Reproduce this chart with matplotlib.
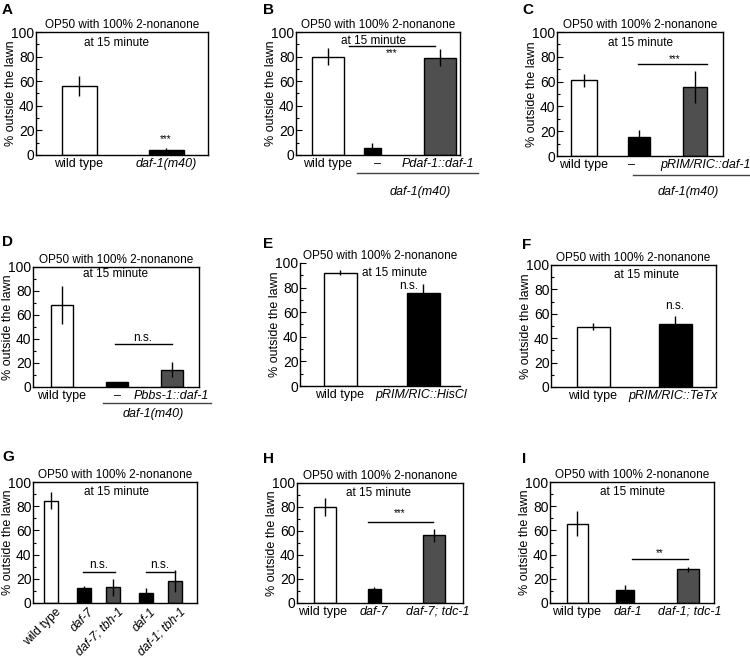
import matplotlib.pyplot as plt
from matplotlib.lines import Line2D
from matplotlib.ticker import MultipleLocator

plt.rcParams['font.family'] = ['Liberation Sans', 'DejaVu Sans']

W, H = 750, 657

title = 'OP50 with 100% 2-nonanone'
subtitle = 'at 15 minute'
ylab = '% outside the lawn'
group_lab = 'daf-1(m40)'

# values (mean, error)
a_labels = ['wild type', 'daf-1(m40)']
a_vals = [56, 4]
a_errs = [8, 2]

b_labels = ['wild type', '\u2013', 'Pdaf-1::daf-1']
b_vals = [80, 6, 79]
b_errs = [7, 4, 7]

c_labels = ['wild type', '\u2013', 'pRIM/RIC::daf-1']
c_vals = [61, 15, 55.5]
c_errs = [5.5, 6, 13]

d_labels = ['wild type', '\u2013', 'Pbbs-1::daf-1']
d_vals = [68.5, 4.5, 14.5]
d_errs = [16, 0, 6]

e_labels = ['wild type', 'pRIM/RIC::HisCl']
e_vals = [92, 76]
e_errs = [2, 7]

f_labels = ['wild type', 'pRIM/RIC::TeTx']
f_vals = [49.5, 51.5]
f_errs = [3, 6.5]

g_labels = ['wild type', 'daf-7', 'daf-7; tbh-1', 'daf-1', 'daf-1; tbh-1']
g_vals = [84.5, 12, 13, 8.5, 18]
g_errs = [7, 2, 7, 4, 9]

h_labels = ['wild type', 'daf-7', 'daf-7; tdc-1']
h_vals = [80, 12, 56.5]
h_errs = [7.5, 1, 5.5]

i_labels = ['wild type', 'daf-1', 'daf-1; tdc-1']
i_vals = [65.5, 10.5, 28]
i_errs = [10.5, 4, 2]

DARK = '#4f4f4f'
fills = {'w': 'white', 'k': 'black', 'd': DARK}

# layout in figure pixels: box = (left, top, right, bottom)
panels = [
    dict(letter='A', lxy=(2, 3), box=(36, 32, 208, 155), xs=[79, 166], ws=[35, 35],
         fill='wk', ticks=[79, 166], labels=a_labels, vals=a_vals, errs=a_errs,
         at=(0.47, 91), lines=[], marks=[('***', 166, 13)]),
    dict(letter='B', lxy=(263, 3), box=(296, 32, 460, 155), xs=[328, 372, 440], ws=[32, 17, 32],
         fill='wkd', ticks=[328, 378, 438], labels=b_labels, vals=b_vals, errs=b_errs,
         at=(0.47, 93), lines=[(349, 435, 89)], marks=[('***', 392, 83)],
         group=(357, 478, 173, 420, 192)),
    dict(letter='C', lxy=(522, 3), box=(557, 32, 723, 156), xs=[584, 639, 695], ws=[26, 22, 24],
         fill='wkd', ticks=[584, 632, 706], labels=c_labels, vals=c_vals, errs=c_errs,
         at=(0.5, 91), lines=[(638, 707, 74)], marks=[('***', 675, 78)],
         group=(633, 750, 175, 688, 192)),
    dict(letter='D', lxy=(2, 235), box=(33, 267, 199, 387), xs=[62, 117, 172], ws=[22, 22, 22],
         fill='wkd', ticks=[62, 118, 171], labels=d_labels, vals=d_vals, errs=d_errs,
         at=(0.5, 94), lines=[(115, 172, 35.5)], marks=[('n.s.', 143, 41)],
         group=(103, 211, 403, 153, 414)),
    dict(letter='E', lxy=(263, 237), box=(300, 263, 460, 386), xs=[340, 423], ws=[33, 33],
         fill='wk', ticks=[340, 421], labels=e_labels, vals=e_vals, errs=e_errs,
         at=(0.59, 92), lines=[], marks=[('n.s.', 409, 81)], open_box=True),
    dict(letter='F', lxy=(522, 238), box=(551, 265, 716, 387), xs=[593, 675], ws=[33, 33],
         fill='wk', ticks=[593, 673], labels=f_labels, vals=f_vals, errs=f_errs,
         at=(0.58, 92), lines=[], marks=[('n.s.', 675, 66)]),
    dict(letter='G', lxy=(2, 450), box=(33, 482, 197, 603), xs=[51, 84, 113, 146, 175], ws=[14] * 5,
         fill='wkdkd', ticks=[55, 88, 117, 150, 179], labels=g_labels, vals=g_vals, errs=g_errs,
         at=(0.51, 92), lines=[(83, 115, 25.5), (146, 175, 25.5)],
         marks=[('n.s.', 99, 31), ('n.s.', 160, 31)], rot=True),
    dict(letter='H', lxy=(263, 452), box=(297, 483, 463, 603), xs=[325, 374, 434], ws=[22, 13, 22],
         fill='wkd', ticks=[323, 374, 438], labels=h_labels, vals=h_vals, errs=h_errs,
         at=(0.49, 92), lines=[(368, 433, 67.5)], marks=[('***', 400, 75)]),
    dict(letter='I', lxy=(522, 452), box=(550, 482, 714, 603), xs=[577, 625, 688], ws=[21, 18, 22],
         fill='wkd', ticks=[577, 628, 690], labels=i_labels, vals=i_vals, errs=i_errs,
         at=(0.5, 92), lines=[(632, 688, 36)], marks=[('**', 660, 41)]),
]

fig = plt.figure(figsize=(W / 100, H / 100), dpi=100)

for p in panels:
    l, t, r, b = p['box']
    ax = fig.add_axes([l / W, 1 - b / H, (r - l) / W, (b - t) / H])
    ax.set_xlim(l, r)
    ax.set_ylim(0, 100)

    ax.bar(p['xs'], p['vals'], width=p['ws'], color=[fills[c] for c in p['fill']],
           edgecolor='black', linewidth=1, zorder=2)
    ax.errorbar(p['xs'], p['vals'], yerr=p['errs'], fmt='none', ecolor='black',
                elinewidth=1, capsize=0, zorder=3)

    ax.set_yticks(range(0, 101, 20))
    ax.yaxis.set_minor_locator(MultipleLocator(10))
    ax.tick_params(axis='y', which='major', direction='in', length=4, width=0.8,
                   labelsize=10, pad=1)
    ax.tick_params(axis='y', which='minor', direction='in', length=2.5, width=0.8)

    ax.set_xticks(p['ticks'])
    if p.get('rot'):
        ax.set_xticklabels(p['labels'], rotation=45, ha='right', va='top',
                           rotation_mode='anchor', fontsize=8.7)
    else:
        ax.set_xticklabels(p['labels'], fontsize=9)
    ax.tick_params(axis='x', length=0, pad=2)
    for tl in ax.get_xticklabels():
        if tl.get_text() not in ('wild type', '\u2013'):
            tl.set_fontstyle('italic')

    for s in ax.spines.values():
        s.set_linewidth(1)
    if p.get('open_box'):
        ax.spines['top'].set_visible(False)
        ax.spines['right'].set_visible(False)

    ax.set_ylabel(ylab, fontsize=9)
    ax.yaxis.set_label_coords(-19 / (r - l), 0.5)
    ax.set_title(title, fontsize=8.5, pad=3)
    ax.text(p['at'][0], p['at'][1], subtitle, transform=ax.get_yaxis_transform(),
            ha='center', va='center', fontsize=8.5)

    for x0, x1, y in p['lines']:
        ax.plot([x0, x1], [y, y], color='black', lw=1, zorder=3)
    for txt, x, y in p['marks']:
        ax.text(x, y, txt, ha='center', va='center',
                fontsize=7 if '*' in txt else 8.5)

    if 'group' in p:
        gx0, gx1, gy, tx, ty = p['group']
        fig.add_artist(Line2D([gx0 / W, gx1 / W], [1 - gy / H, 1 - gy / H],
                              transform=fig.transFigure, color='#444444', lw=1))
        fig.text(tx / W, 1 - ty / H, group_lab, ha='center', va='center',
                 fontsize=9, fontstyle='italic')

    fig.text(p['lxy'][0] / W, 1 - p['lxy'][1] / H, p['letter'], ha='left', va='top',
             fontsize=11, fontweight='bold')

fig.savefig('out.png', dpi=100)
